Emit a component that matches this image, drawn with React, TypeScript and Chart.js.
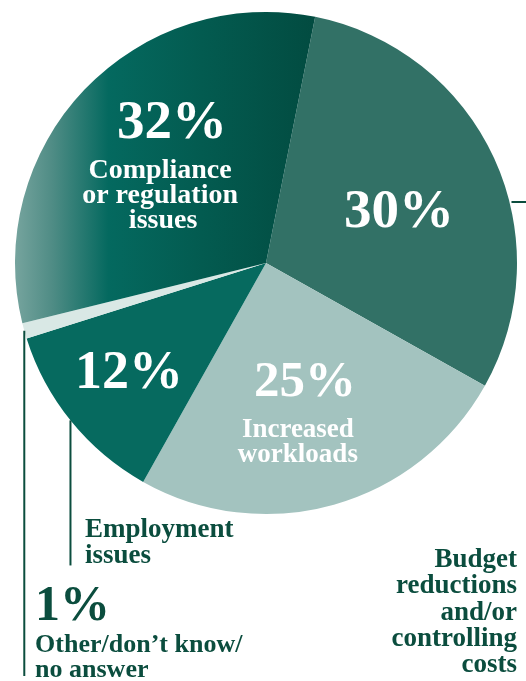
import React, { useEffect, useRef } from "react";
import { Chart, registerables } from "chart.js";

Chart.register(...registerables);

const categories = [
  "Budget reductions and/or controlling costs",
  "Increased workloads",
  "Employment issues",
  "Other/don't know/no answer",
  "Compliance or regulation issues",
];
const values = [30, 25, 12, 1, 32];
const percentLabels = ["30%", "25%", "12%", "1%", "32%"];
const sliceColors = ["#327166", "#a3c3bf", "#066a5f", "#d9e8e5", "gradient"];

const DARK = "#0b4d3e";
const SERIF = "'Liberation Serif', 'Times New Roman', serif";

const labelPlugin = {
  id: "labels",
  afterDatasetsDraw(chart: any) {
    const arc = chart.getDatasetMeta(0).data[0];
    if (!arc) return;
    const cx = arc.x;
    const cy = arc.y;
    const r = arc.outerRadius;
    const ctx = chart.ctx as CanvasRenderingContext2D;
    const P = (dx: number, dy: number) => [cx + dx * r, cy + dy * r];
    const text = (
      s: string,
      dx: number,
      dy: number,
      size: number,
      color: string,
      align: CanvasTextAlign
    ) => {
      const [x, y] = P(dx, dy);
      ctx.save();
      ctx.font = `bold ${size}px ${SERIF}`;
      ctx.fillStyle = color;
      ctx.textAlign = align;
      ctx.textBaseline = "alphabetic";
      ctx.fillText(s, x, y);
      ctx.restore();
    };
    const W = "#ffffff";
    // inside labels
    text(percentLabels[4], -0.375, -0.498, 55, W, "center");
    text("Compliance", -0.422, -0.339, 28, W, "center");
    text("or regulation", -0.422, -0.239, 28, W, "center");
    text("issues", -0.41, -0.139, 28, W, "center");
    text(percentLabels[0], 0.53, -0.143, 55, W, "center");
    text(percentLabels[1], 0.155, 0.53, 51, W, "center");
    text("Increased", 0.127, 0.693, 27, W, "center");
    text("workloads", 0.127, 0.793, 27, W, "center");
    text(percentLabels[2], -0.546, 0.498, 54, W, "center");

    // leader lines
    ctx.save();
    ctx.strokeStyle = DARK;
    ctx.lineWidth = 2;
    const vline = (x: number, yEnd: number) => {
      const dx = x - cx;
      const y0 = cy + Math.sqrt(Math.max(r * r - dx * dx, 0));
      ctx.beginPath();
      ctx.moveTo(x, y0);
      ctx.lineTo(x, yEnd);
      ctx.stroke();
    };
    vline(cx - 0.963 * r, cy + 1.645 * r);
    vline(cx - 0.779 * r, cy + 1.205 * r);
    const ty = cy - 0.243 * r;
    const tx0 = cx + Math.sqrt(r * r - (ty - cy) * (ty - cy));
    ctx.beginPath();
    ctx.moveTo(tx0 + 2, ty);
    ctx.lineTo(chart.width, ty);
    ctx.stroke();
    ctx.restore();

    // outside labels
    text("Employment", -0.721, 1.092, 27, DARK, "left");
    text("issues", -0.721, 1.195, 27, DARK, "left");
    text(percentLabels[3], -0.92, 1.423, 50, DARK, "left");
    text("Other/don\u2019t know/", -0.92, 1.55, 26, DARK, "left");
    text("no answer", -0.92, 1.65, 26, DARK, "left");
    const bl = ["Budget", "reductions", "and/or", "controlling", "costs"];
    bl.forEach((s, i) => text(s, 1.0, 1.211 + i * 0.105, 27, DARK, "right"));
  },
};

export default function App() {
  const ref = useRef<HTMLCanvasElement | null>(null);
  useEffect(() => {
    if (!ref.current) return;
    const chart = new Chart(ref.current, {
      type: "pie",
      data: {
        labels: categories,
        datasets: [
          {
            data: values,
            borderWidth: 0,
            backgroundColor: (c: any) => {
              const col = sliceColors[c.dataIndex];
              if (col !== "gradient") return col;
              const ch = c.chart;
              const area = ch.chartArea;
              if (!area) return "#05574b";
              const g = ch.ctx.createLinearGradient(area.left, 0, area.left + area.width * 0.62, 0);
              g.addColorStop(0, "#76a49e");
              g.addColorStop(0.12, "#4f8c85");
              g.addColorStop(0.3, "#04695f");
              g.addColorStop(0.6, "#035b50");
              g.addColorStop(1, "#024a3f");
              return g;
            },
          },
        ],
      },
      options: {
        animation: false,
        responsive: true,
        maintainAspectRatio: false,
        rotation: 11.3,
        layout: { padding: { left: 15, top: 12, right: 9, bottom: 167 } },
        plugins: { legend: { display: false }, tooltip: { enabled: false } },
      },
      plugins: [labelPlugin],
    });
    return () => chart.destroy();
  }, []);
  return (
    <div style={{ position: "fixed", left: 0, top: 0, width: 526, height: 681, background: "#ffffff" }}>
      <canvas ref={ref} />
    </div>
  );
}
